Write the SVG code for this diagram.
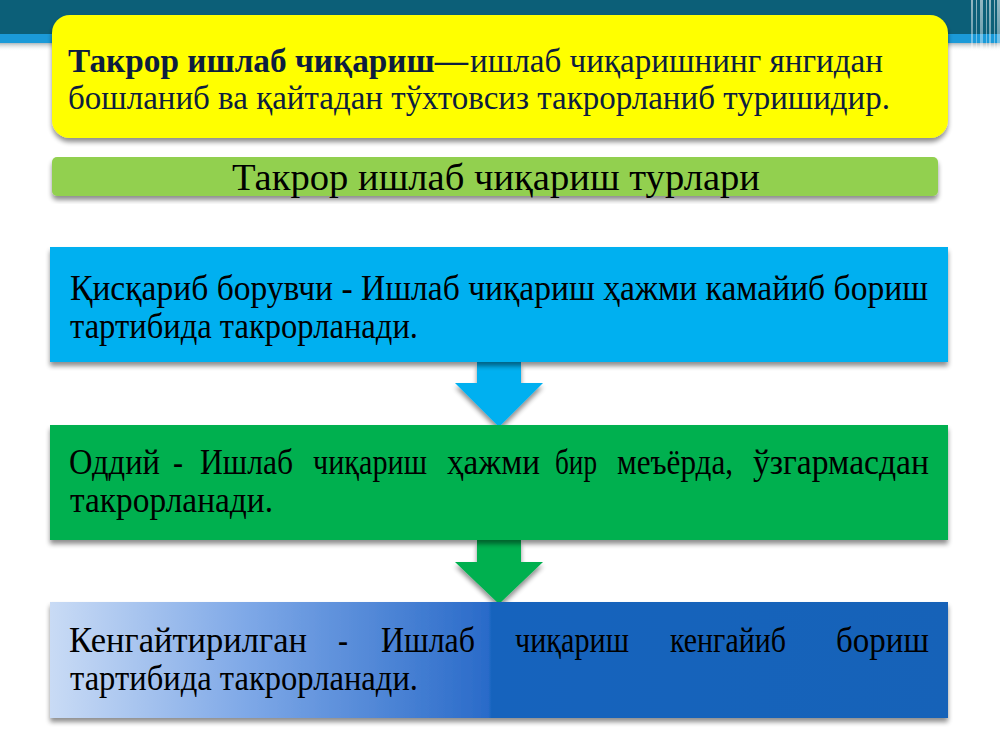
<svg xmlns="http://www.w3.org/2000/svg" width="1000" height="750" viewBox="0 0 1000 750">
<defs>
<style>
.t{font-size:36px;fill:#000}
.y{font-size:34px;fill:#0d1d3f}
.b{font-weight:bold}
.h{font-size:38px;fill:#000}
</style>
<filter id="sh" x="-5%" y="-10%" width="110%" height="130%">
<feGaussianBlur in="SourceAlpha" stdDeviation="2.5"/>
<feOffset dx="0" dy="4" result="o"/>
<feComponentTransfer><feFuncA type="linear" slope="0.45"/></feComponentTransfer>
<feMerge><feMergeNode/><feMergeNode in="SourceGraphic"/></feMerge>
</filter>
<linearGradient id="g3" x1="0" y1="0" x2="1" y2="0">
<stop offset="0" stop-color="#c9dbf5"/>
<stop offset="0.22" stop-color="#7ea8e7"/>
<stop offset="0.488" stop-color="#2a6bc9"/>
<stop offset="0.492" stop-color="#1464bd"/>
<stop offset="1" stop-color="#1262b8"/>
</linearGradient>
<linearGradient id="bs" x1="0" y1="0" x2="0" y2="1">
<stop offset="0" stop-color="#8a9aa0" stop-opacity="0.7"/>
<stop offset="1" stop-color="#ffffff" stop-opacity="0"/>
</linearGradient>
<linearGradient id="st" x1="0" y1="0" x2="0" y2="1">
<stop offset="0" stop-color="#ffffff" stop-opacity="0.55"/>
<stop offset="0.7" stop-color="#ffffff" stop-opacity="0.35"/>
<stop offset="1" stop-color="#ffffff" stop-opacity="0"/>
</linearGradient>
</defs>
<rect width="1000" height="750" fill="#ffffff"/>
<g id="banner">
<rect x="0" y="0" width="1000" height="34" fill="#0c5f78"/>
<rect x="0" y="34" width="1000" height="9" fill="#1b9ad8"/>
<rect x="0" y="43" width="1000" height="8" fill="url(#bs)"/>
<g fill="url(#st)">
<rect x="971" y="0" width="2" height="72"/>
<rect x="976" y="0" width="1" height="72"/>
<rect x="980" y="0" width="3" height="72"/>
<rect x="986" y="0" width="1" height="72"/>
<rect x="989" y="0" width="2" height="72"/>
<rect x="994" y="0" width="1" height="72"/>
<rect x="997" y="0" width="3" height="72"/>
</g>
</g>
<g font-family="Liberation Serif, Times New Roman, DejaVu Serif, serif">
<g id="definition">
<rect x="52" y="15" width="896" height="123" rx="18" fill="#ffff00" filter="url(#sh)"/>
<text class="y b" x="68" y="72" textLength="400" lengthAdjust="spacingAndGlyphs">Такрор ишлаб чиқариш—</text>
<text class="y" x="470" y="72" textLength="413" lengthAdjust="spacingAndGlyphs">ишлаб чиқаришнинг янгидан</text>
<text class="y" x="68" y="109" textLength="822" lengthAdjust="spacingAndGlyphs">бошланиб ва қайтадан тўхтовсиз такрорланиб туришидир.</text>
</g>
<g id="types-title">
<rect x="52" y="157" width="886" height="39" rx="5" fill="#92d050" filter="url(#sh)"/>
<text class="h" x="232" y="190" textLength="528" lengthAdjust="spacingAndGlyphs">Такрор ишлаб чиқариш турлари</text>
</g>
<g id="connectors">
<polygon points="477,362 521,362 521,383 543,383 499,427 455,383 477,383" fill="#00b0f0" filter="url(#sh)"/>
<polygon points="477,540 521,540 521,562 543,562 499,604 455,562 477,562" fill="#00b050" filter="url(#sh)"/>
</g>
<g id="decreasing">
<rect x="50" y="247" width="898" height="115" fill="#00b0f0" filter="url(#sh)"/>
<text class="t" x="70" y="300" textLength="858" lengthAdjust="spacingAndGlyphs">Қисқариб борувчи - Ишлаб чиқариш ҳажми камайиб бориш</text>
<text class="t" x="70" y="338" textLength="348" lengthAdjust="spacingAndGlyphs">тартибида такрорланади.</text>
</g>
<g id="simple">
<rect x="50" y="425" width="898" height="115" fill="#00b050" filter="url(#sh)"/>
<text class="t" x="69" y="474" textLength="91" lengthAdjust="spacingAndGlyphs">Оддий</text>
<text class="t" x="173" y="474" textLength="10" lengthAdjust="spacingAndGlyphs">-</text>
<text class="t" x="200" y="474" textLength="93" lengthAdjust="spacingAndGlyphs">Ишлаб</text>
<text class="t" x="313" y="474" textLength="114" lengthAdjust="spacingAndGlyphs">чиқариш</text>
<text class="t" x="447" y="474" textLength="93" lengthAdjust="spacingAndGlyphs">ҳажми</text>
<text class="t" x="555" y="474" textLength="42" lengthAdjust="spacingAndGlyphs">бир</text>
<text class="t" x="617" y="474" textLength="116" lengthAdjust="spacingAndGlyphs">меъёрда,</text>
<text class="t" x="753" y="474" textLength="176" lengthAdjust="spacingAndGlyphs">ўзгармасдан</text>
<text class="t" x="70" y="512" textLength="203" lengthAdjust="spacingAndGlyphs">такрорланади.</text>
</g>
<g id="expanded">
<rect x="50" y="602" width="898" height="116" fill="url(#g3)" filter="url(#sh)"/>
<text class="t" x="69" y="652" textLength="238" lengthAdjust="spacingAndGlyphs">Кенгайтирилган</text>
<text class="t" x="338" y="652" textLength="10" lengthAdjust="spacingAndGlyphs">-</text>
<text class="t" x="381" y="652" textLength="94" lengthAdjust="spacingAndGlyphs">Ишлаб</text>
<text class="t" x="515" y="652" textLength="114" lengthAdjust="spacingAndGlyphs">чиқариш</text>
<text class="t" x="670" y="652" textLength="116" lengthAdjust="spacingAndGlyphs">кенгайиб</text>
<text class="t" x="836" y="652" textLength="93" lengthAdjust="spacingAndGlyphs">бориш</text>
<text class="t" x="70" y="690" textLength="348" lengthAdjust="spacingAndGlyphs">тартибида такрорланади.</text>
</g>
</g>
</svg>
